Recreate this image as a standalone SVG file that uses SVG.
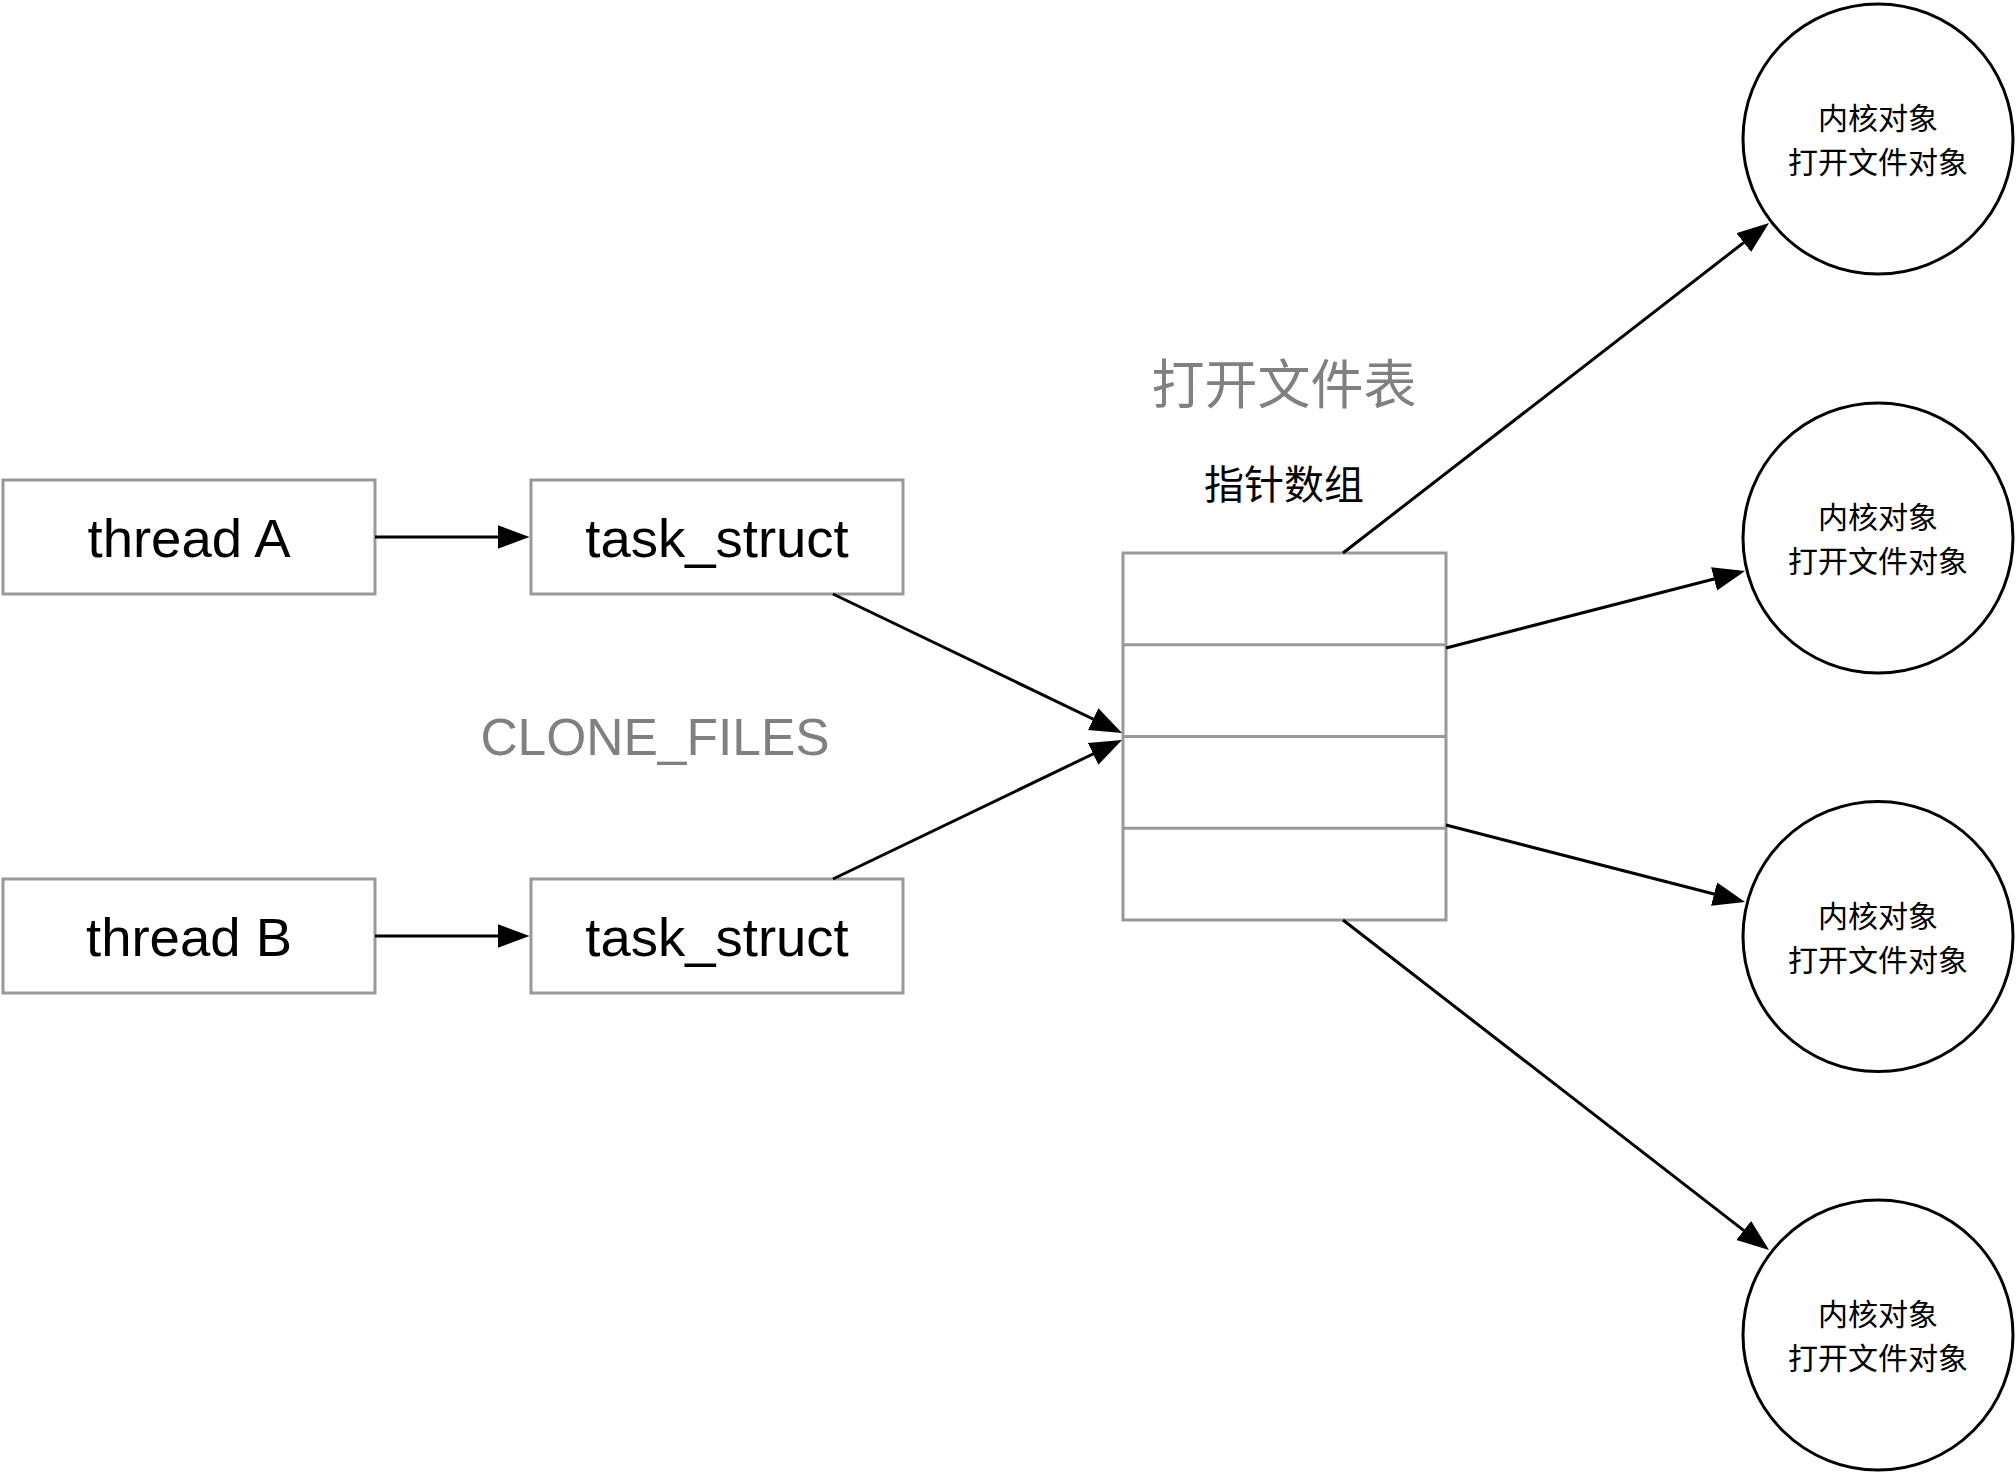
<svg xmlns="http://www.w3.org/2000/svg" width="2016" height="1473" viewBox="0 0 2016 1473">
<style>
.box{fill:#fff;stroke:#999;stroke-width:3}
.cell{fill:none;stroke:#999;stroke-width:3}
.circ{fill:#fff;stroke:#000;stroke-width:3}
.lbl{font-family:"Liberation Sans","Noto Sans CJK SC",sans-serif;font-size:54.5px;fill:#000;text-anchor:middle}
.gray{fill:#808080;font-size:51.5px}
.cjk{font-family:"Noto Sans CJK SC","Liberation Sans",sans-serif;text-anchor:middle;fill:#000}
.edge{stroke:#000;stroke-width:3;fill:none;marker-end:url(#arr)}
</style>
<defs>
<marker id="arr" markerUnits="userSpaceOnUse" markerWidth="34" markerHeight="26" refX="24" refY="12" orient="auto">
<path d="M0,0 L32,12 L0,24 Z" fill="#000"/>
</marker>
</defs>
<rect width="2016" height="1473" fill="#fff"/>
<g id="threadA"><rect class="box" x="3" y="480" width="372" height="114"/><text class="lbl" x="189" y="557">thread A</text></g>
<g id="taskA"><rect class="box" x="531" y="480" width="372" height="114"/><text class="lbl" x="717" y="557">task_struct</text></g>
<g id="threadB"><rect class="box" x="3" y="879" width="372" height="114"/><text class="lbl" x="189" y="956">thread B</text></g>
<g id="taskB"><rect class="box" x="531" y="879" width="372" height="114"/><text class="lbl" x="717" y="956">task_struct</text></g>
<g id="cloneLabel"><text class="lbl gray" x="655" y="755">CLONE_FILES</text></g>
<g id="tableTitle"><text class="cjk" x="1284" y="404" font-size="53" style="fill:#808080">打开文件表</text></g>
<g id="arrayTitle"><text class="cjk" x="1284" y="499" font-size="40">指针数组</text></g>
<g id="pointerArray">
<rect class="box" x="1123" y="553" width="323" height="367"/>
<line class="cell" x1="1123" y1="644.75" x2="1446" y2="644.75"/>
<line class="cell" x1="1123" y1="736.5" x2="1446" y2="736.5"/>
<line class="cell" x1="1123" y1="828.25" x2="1446" y2="828.25"/>
</g>
<g id="obj1"><circle class="circ" cx="1878" cy="139" r="135"/><text class="cjk" x="1878" y="129" font-size="30">内核对象</text><text class="cjk" x="1878" y="173" font-size="30">打开文件对象</text></g>
<g id="obj2"><circle class="circ" cx="1878" cy="538" r="135"/><text class="cjk" x="1878" y="528" font-size="30">内核对象</text><text class="cjk" x="1878" y="572" font-size="30">打开文件对象</text></g>
<g id="obj3"><circle class="circ" cx="1878" cy="936.5" r="135"/><text class="cjk" x="1878" y="926.5" font-size="30">内核对象</text><text class="cjk" x="1878" y="970.5" font-size="30">打开文件对象</text></g>
<g id="obj4"><circle class="circ" cx="1878" cy="1335" r="135"/><text class="cjk" x="1878" y="1325" font-size="30">内核对象</text><text class="cjk" x="1878" y="1369" font-size="30">打开文件对象</text></g>
<g id="connectors">
<line class="edge" x1="375" y1="537" x2="521.5" y2="537"/>
<line class="edge" x1="375" y1="936" x2="521.5" y2="936"/>
<line class="edge" x1="833" y1="594" x2="1114.8" y2="729.5"/>
<line class="edge" x1="833" y1="879" x2="1114.8" y2="743.5"/>
<line class="edge" x1="1343" y1="553" x2="1762.7" y2="227.9"/>
<line class="edge" x1="1446" y1="648" x2="1737.3" y2="573"/>
<line class="edge" x1="1446" y1="825" x2="1737.3" y2="900"/>
<line class="edge" x1="1343" y1="920" x2="1762.7" y2="1245.1"/>
</g>
</svg>
